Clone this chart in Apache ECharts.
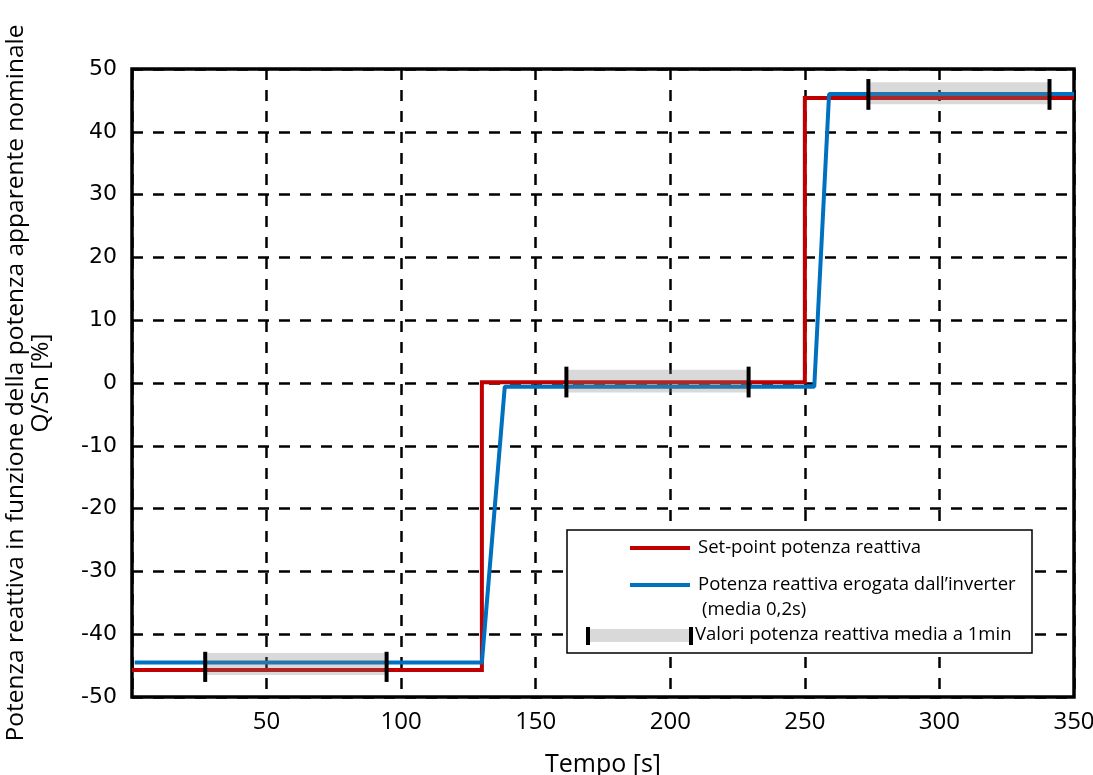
<!DOCTYPE html>
<html>
<head>
<meta charset="utf-8">
<script src="https://cdn.jsdelivr.net/npm/echarts@6/dist/echarts.min.js"></script>
<style>html,body{margin:0;padding:0;background:#fff;}#c{width:1093px;height:775px;}</style>
</head>
<body>
<div id="c"></div>
<script>
// ---- data ----
const xTicks = [50, 100, 150, 200, 250, 300, 350];
const yTicks = [-50, -40, -30, -20, -10, 0, 10, 20, 30, 40, 50];
const setpointT = [0, 130, 130, 250, 250, 350];
const setpointQ = [-45.7, -45.7, 0.1, 0.1, 45.4, 45.4];
const inverterT = [1, 130, 138.5, 253.5, 259, 350];
const inverterQ = [-44.5, -44.5, -0.6, -0.6, 46.0, 46.0];
const bandStart = [27.2, 161.4, 273.6];
const bandEnd = [94.6, 229.1, 340.9];
const bandLow = [-46.5, -1.5, 44.4];
const bandHigh = [-43.0, 2.1, 47.9];
const markLow = [-47.6, -2.3, 43.5];
const markHigh = [-42.8, 2.6, 48.4];
const seriesNames = ['Set-point potenza reattiva', 'Potenza reattiva erogata dall\u2019inverter', 'Valori potenza reattiva media a 1min'];

const zip = (a, b) => a.map((v, i) => [v, b[i]]);
const bands = bandStart.map((s, i) => [s, bandEnd[i], bandLow[i], bandHigh[i], markLow[i], markHigh[i]]);

const chart = echarts.init(document.getElementById('c'), null, {renderer: 'canvas'});
const gridLine = {show: true, lineStyle: {color: '#000', width: 2.5, type: [11, 10]}};
chart.setOption({
  animation: false,
  backgroundColor: '#fff',
  grid: {left: 132, right: 19, top: 69, bottom: 78, outerBoundsMode: 'none', containLabel: false,
    show: true, borderColor: '#000', borderWidth: 3.5, backgroundColor: 'transparent'},
  xAxis: {
    type: 'value', min: 0, max: 350, interval: 50,
    axisLine: {show: false}, axisTick: {show: false},
    splitLine: gridLine,
    axisLabel: {showMinLabel: false, margin: 13, fontFamily: 'Open Sans', fontSize: 24, color: '#000',
      formatter: v => xTicks.includes(v) ? String(v) : ''},
    name: 'Tempo [s]', nameLocation: 'middle', nameGap: 55,
    nameTextStyle: {fontFamily: 'Open Sans', fontSize: 25, color: '#000'}
  },
  yAxis: {
    type: 'value', min: -50, max: 50, interval: 10,
    axisLine: {show: false}, axisTick: {show: false},
    splitLine: gridLine,
    axisLabel: {margin: 15, fontFamily: 'DejaVu Sans', fontSize: 22, color: '#000',
      formatter: v => yTicks.includes(v) ? String(v) : ''},
    name: 'Potenza reattiva in funzione della potenza apparente nominale\nQ/Sn [%]',
    nameLocation: 'middle', nameGap: 78, nameRotate: 90,
    nameTextStyle: {fontFamily: 'Open Sans', fontSize: 24.5, color: '#000', lineHeight: 25, align: 'center'}
  },
  series: [
    {name: seriesNames[0], type: 'line', data: zip(setpointT, setpointQ), showSymbol: false, symbol: 'none',
      lineStyle: {color: '#c00000', width: 4, join: 'miter'}, z: 2},
    {name: seriesNames[1], type: 'line', data: zip(inverterT, inverterQ), showSymbol: false, symbol: 'none',
      lineStyle: {color: '#0070c0', width: 4}, z: 3},
    {name: seriesNames[2], type: 'custom', data: bands, z: 4,
      encode: {x: [0, 1], y: [2, 3, 4, 5]},
      renderItem: function (params, api) {
        const x0 = api.value(0), x1 = api.value(1);
        const tl = api.coord([x0, api.value(3)]);
        const br = api.coord([x1, api.value(2)]);
        const m0a = api.coord([x0, api.value(4)]), m0b = api.coord([x0, api.value(5)]);
        const m1a = api.coord([x1, api.value(4)]), m1b = api.coord([x1, api.value(5)]);
        return {type: 'group', children: [
          {type: 'rect', shape: {x: tl[0], y: tl[1], width: br[0] - tl[0], height: br[1] - tl[1]},
            style: {fill: 'rgba(128,128,128,0.3)'}},
          {type: 'line', shape: {x1: m0a[0], y1: m0a[1], x2: m0b[0], y2: m0b[1]}, style: {stroke: '#000', lineWidth: 4}},
          {type: 'line', shape: {x1: m1a[0], y1: m1a[1], x2: m1b[0], y2: m1b[1]}, style: {stroke: '#000', lineWidth: 4}}
        ]};
      }
    }
  ],
  graphic: [
    {type: 'rect', shape: {x: 567, y: 530, width: 465, height: 123}, style: {fill: '#fff', stroke: '#000', lineWidth: 1.5}, z: 10},
    {type: 'line', shape: {x1: 630, y1: 548, x2: 690, y2: 548}, style: {stroke: '#c00000', lineWidth: 4}, z: 11},
    {type: 'line', shape: {x1: 630, y1: 585, x2: 690, y2: 585}, style: {stroke: '#0070c0', lineWidth: 4}, z: 11},
    {type: 'rect', shape: {x: 587, y: 629, width: 105, height: 13}, style: {fill: '#d9d9d9'}, z: 11},
    {type: 'line', shape: {x1: 588, y1: 627, x2: 588, y2: 645}, style: {stroke: '#000', lineWidth: 4}, z: 12},
    {type: 'line', shape: {x1: 691, y1: 627, x2: 691, y2: 645}, style: {stroke: '#000', lineWidth: 4}, z: 12},
    {type: 'text', x: 698, y: 548, style: {text: seriesNames[0], fontFamily: 'Open Sans', fontSize: 18.5, fill: '#000', verticalAlign: 'middle'}, z: 12},
    {type: 'text', x: 698, y: 585, style: {text: seriesNames[1], fontFamily: 'Open Sans', fontSize: 18.5, fill: '#000', verticalAlign: 'middle'}, z: 12},
    {type: 'text', x: 702, y: 610, style: {text: '(media 0,2s)', fontFamily: 'Open Sans', fontSize: 18.5, fill: '#000', verticalAlign: 'middle'}, z: 12},
    {type: 'text', x: 695, y: 635, style: {text: seriesNames[2], fontFamily: 'Open Sans', fontSize: 18.5, fill: '#000', verticalAlign: 'middle'}, z: 12}
  ]
});
</script>
</body>
</html>
